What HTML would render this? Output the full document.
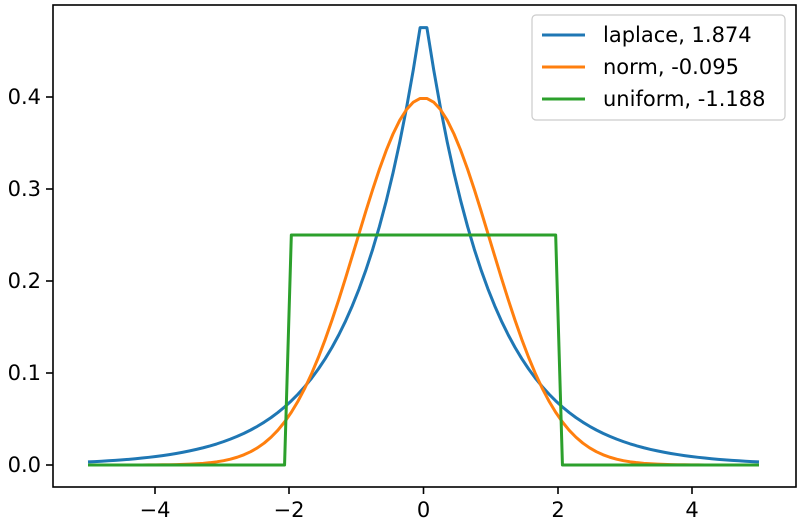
<!DOCTYPE html>
<html><head><meta charset="utf-8"><style>
body{margin:0;background:#fff}
svg{display:block;font-family:"DejaVu Sans","Liberation Sans",sans-serif}
</style></head><body>
<svg id="s" width="800" height="524" viewBox="0 0 800 524">
<rect x="0" y="0" width="800" height="524" fill="#fff"/>
<g id="lines" fill="none" stroke-width="3" stroke-linejoin="round"></g>
<rect x="53" y="5" width="743" height="482" fill="none" stroke="#000" stroke-width="1.6"/>
<g stroke="#000" stroke-width="1.6">
<line x1="155" y1="487" x2="155" y2="494"/><line x1="289" y1="487" x2="289" y2="494"/>
<line x1="423.5" y1="487" x2="423.5" y2="494"/><line x1="558" y1="487" x2="558" y2="494"/>
<line x1="692" y1="487" x2="692" y2="494"/>
<line x1="46" y1="465" x2="53" y2="465"/><line x1="46" y1="373" x2="53" y2="373"/>
<line x1="46" y1="281" x2="53" y2="281"/><line x1="46" y1="189" x2="53" y2="189"/>
<line x1="46" y1="97" x2="53" y2="97"/>
</g>
<g font-size="21" fill="#000" text-anchor="middle">
<text x="155" y="517">−4</text><text x="289" y="517">−2</text><text x="423.5" y="517">0</text>
<text x="558" y="517">2</text><text x="692" y="517">4</text>
</g>
<g font-size="21" fill="#000" text-anchor="end">
<text x="41" y="472">0.0</text><text x="41" y="380">0.1</text><text x="41" y="288">0.2</text>
<text x="41" y="196">0.3</text><text x="41" y="104">0.4</text>
</g>
<rect x="532" y="15" width="253" height="105" rx="4" fill="#fff" fill-opacity="0.8" stroke="#ccc" stroke-width="1.2"/>
<g stroke-width="3">
<line x1="542" y1="35" x2="585" y2="35" stroke="#1f77b4"/>
<line x1="542" y1="67" x2="585" y2="67" stroke="#ff7f0e"/>
<line x1="542" y1="99" x2="585" y2="99" stroke="#2ca02c"/>
</g>
<g font-size="21" fill="#000">
<text x="603" y="42">laplace, 1.874</text>
<text x="603" y="74">norm, -0.095</text>
<text x="603" y="106">uniform, -1.188</text>
</g>
</svg>
<script>
var X=function(x){return 423.5+67.1*x},Y=function(v){return 465-920*v};
var fs={"#1f77b4":function(x){return 0.5*Math.exp(-Math.abs(x))},
"#ff7f0e":function(x){return Math.exp(-x*x/2)/Math.sqrt(2*Math.PI)},
"#2ca02c":function(x){return (x>=-2&&x<=2)?0.25:0}};
var g=document.getElementById("lines"),h="";
for(var c in fs){var d="";for(var i=0;i<100;i++){var x=-5+10*i/99;d+=(i?"L":"M")+X(x).toFixed(2)+" "+Y(fs[c](x)).toFixed(2);}
h+='<path d="'+d+'" stroke="'+c+'"/>';}
g.innerHTML=h;
</script>
</body></html>
